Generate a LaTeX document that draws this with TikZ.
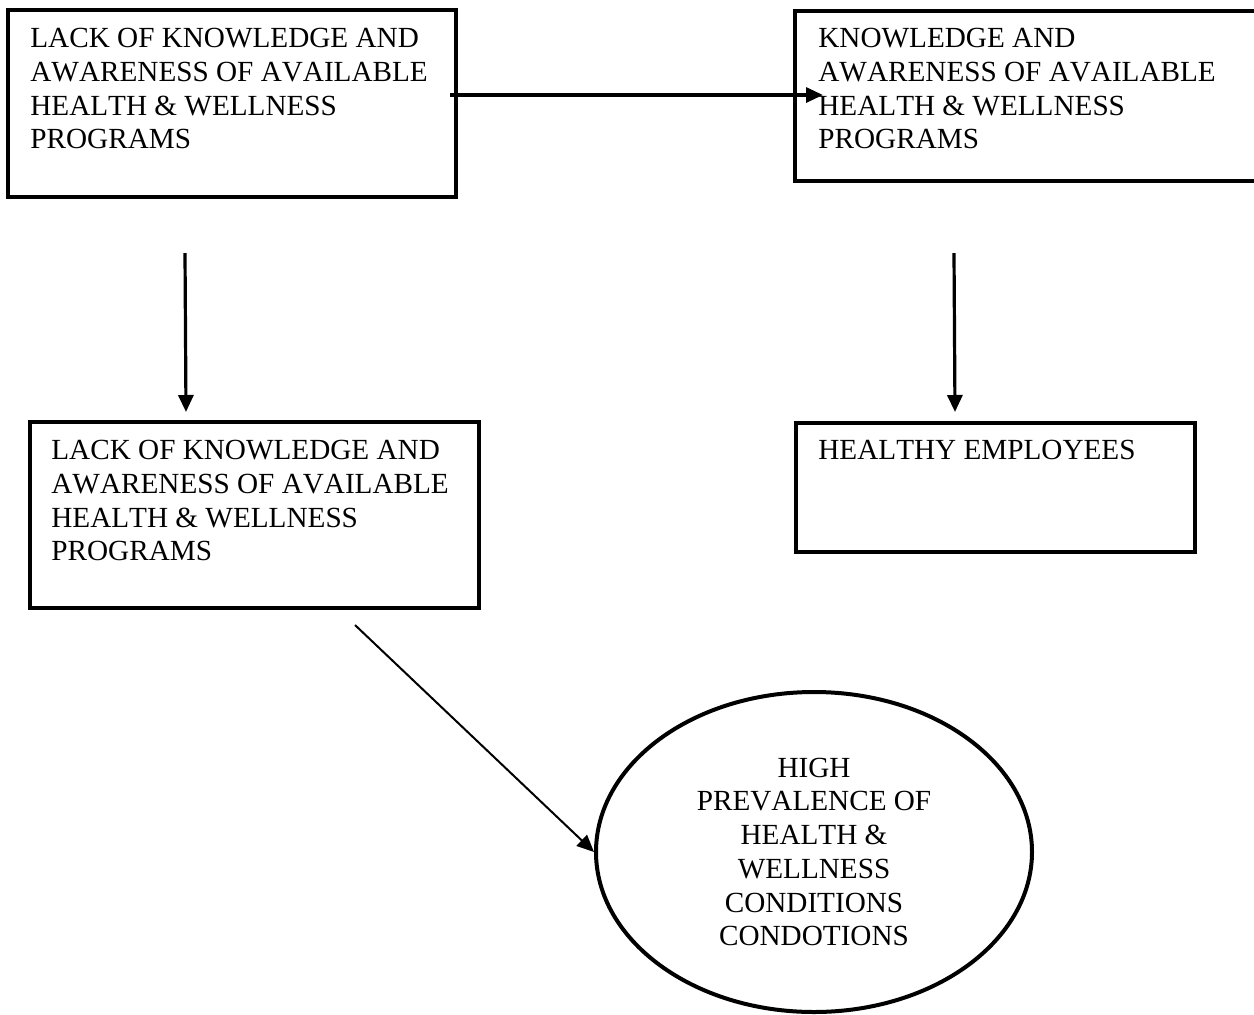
\documentclass[tikz,border=0pt]{standalone}
\usepackage{fontspec}
\setmainfont[Kerning=Off]{Liberation Serif}
\usetikzlibrary{arrows.meta,shapes.geometric}

\tikzset{
    box/.style={draw, line width=2pt, anchor=north west, inner sep=0pt, outer sep=0pt},
    txt/.style={anchor=north west, inner sep=0pt, align=left},
    arr/.style={-{Triangle[length=8.5pt,width=7.5pt]}, line width=1.6pt},
}

\begin{document}
\begin{tikzpicture}[x=0.5pt, y=-0.5pt, font=\fontsize{14.6}{16.85}\selectfont]
    \useasboundingbox (0,0) rectangle (1254,1014);
    \clip (0,0) rectangle (1254,1014);

    % Boxes
    \node[box, minimum width=224pt, minimum height=93.5pt] (lackTop) at (8,10) {};
    \node[box, minimum width=237.5pt, minimum height=85pt] (knowTop) at (795,11) {};
    \node[box, minimum width=224.5pt, minimum height=93pt] (lackLow) at (30,422) {};
    \node[box, minimum width=199.5pt, minimum height=64.5pt] (healthy) at (796,423) {};

    % Box texts
    \node[txt] (lackTopText) at ([shift={(22,18)}]lackTop.north west)
        {LACK OF KNOWLEDGE AND\\AWARENESS OF AVAILABLE\\HEALTH \& WELLNESS\\PROGRAMS};
    \node[txt] (knowTopText) at ([shift={(23,17)}]knowTop.north west)
        {KNOWLEDGE AND\\AWARENESS OF AVAILABLE\\HEALTH \& WELLNESS\\PROGRAMS};
    \node[txt] (lackLowText) at ([shift={(21,18)}]lackLow.north west)
        {LACK OF KNOWLEDGE AND\\AWARENESS OF AVAILABLE\\HEALTH \& WELLNESS\\PROGRAMS};
    \node[txt] (healthyText) at ([shift={(22,17)}]healthy.north west)
        {HEALTHY EMPLOYEES};

    % Outcome
    \node[ellipse, draw, line width=2pt, minimum width=218pt, minimum height=160pt,
          inner sep=0pt, align=center] (prevalence) at (814,852)
        {HIGH\\PREVALENCE OF\\HEALTH \&\\WELLNESS\\CONDITIONS\\CONDOTIONS};

    % Arrows
    \coordinate (acrossFrom) at (450,95);
    \coordinate (acrossTo) at (823,95);
    \coordinate (leftFrom) at (185,253);
    \coordinate (leftTo) at (186,412);
    \coordinate (rightFrom) at (954,253);
    \coordinate (rightTo) at (955,412);
    \coordinate (diagFrom) at (355,625);

    \draw[arr] (acrossFrom) -- (acrossTo);
    \draw[arr] (leftFrom) -- (leftTo);
    \draw[arr] (rightFrom) -- (rightTo);
    \draw[arr, line width=1pt] (diagFrom) -- (prevalence.west);
\end{tikzpicture}
\end{document}
